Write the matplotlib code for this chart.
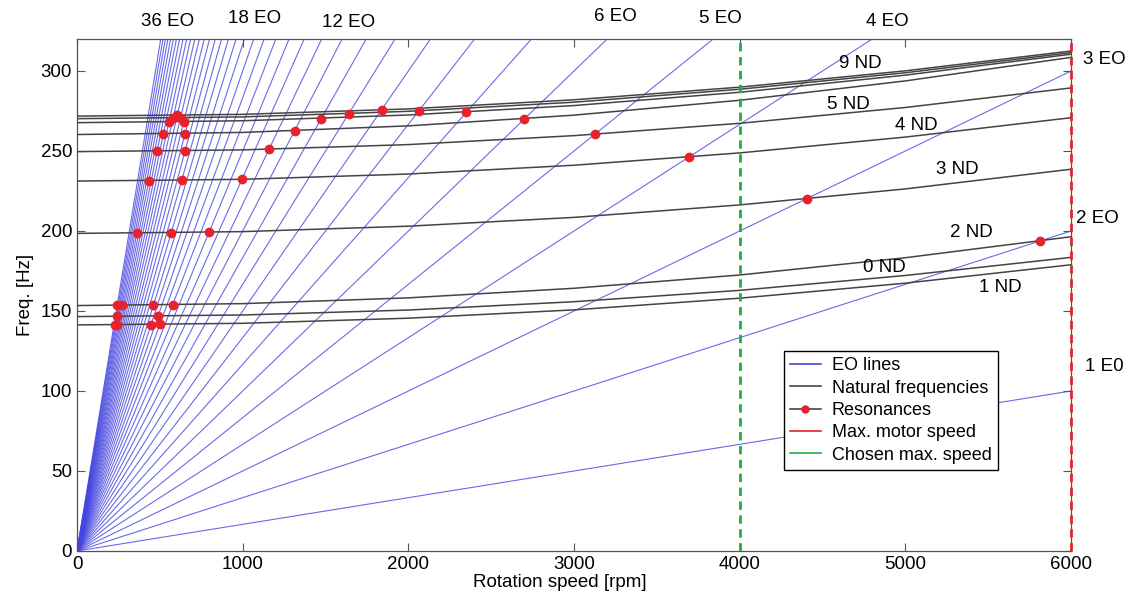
import matplotlib.pyplot as plt
from matplotlib.lines import Line2D

plt.rcParams['font.family'] = ['Liberation Sans', 'DejaVu Sans']

# Engine orders drawn as lines through the origin
eo_orders = list(range(1, 39))
rpm_span = [0, 6000]

# Natural frequencies (Hz) of each nodal diameter, read at these speeds
rpm_grid = [0, 1000, 2000, 3000, 4000, 5000, 6000]
nf_0nd = [146.5, 147.5, 150.6, 155.8, 162.9, 172.2, 183.5]
nf_1nd = [141.3, 142.3, 145.5, 150.7, 158.0, 167.4, 178.9]
nf_2nd = [153.4, 154.6, 158.2, 164.2, 172.5, 183.3, 196.4]
nf_3nd = [198.5, 199.6, 203.0, 208.5, 216.3, 226.3, 238.6]
nf_4nd = [231.2, 232.3, 235.6, 241.1, 248.8, 258.7, 270.8]
nf_5nd = [249.6, 250.7, 254.0, 259.6, 267.3, 277.2, 289.4]
nf_6nd = [260.3, 261.6, 265.7, 272.4, 281.7, 293.8, 308.5]
nf_7nd = [267.7, 268.9, 272.5, 278.4, 286.7, 297.4, 310.5]
nf_8nd = [270.2, 271.3, 274.8, 280.5, 288.6, 298.9, 311.5]
nf_9nd = [271.8, 272.9, 276.3, 282.0, 289.9, 300.1, 312.5]
nf_lines = [nf_0nd, nf_1nd, nf_2nd, nf_3nd, nf_4nd,
            nf_5nd, nf_6nd, nf_7nd, nf_8nd, nf_9nd]

# Resonance points (rpm, Hz)
res_rpm = [5813, 577, 461, 271, 242,
           489, 244,
           500, 447, 242, 229,
           4405, 797, 568, 361,
           3695, 996, 632, 434,
           3125, 1159, 652, 484,
           2700, 1313, 652, 521,
           2350, 1474, 644, 555,
           2065, 1640, 625, 580,
           1838, 605]
res_freq = [193.8, 153.8, 153.7, 153.6, 153.5,
            146.7, 146.6,
            141.6, 141.5, 141.4, 141.4,
            220.2, 199.2, 198.8, 198.6,
            246.3, 232.4, 231.7, 231.4,
            260.4, 251.1, 250.0, 249.9,
            270.0, 262.6, 260.9, 260.6,
            274.2, 270.3, 268.2, 268.1,
            275.3, 273.3, 270.7, 270.6,
            275.7, 272.2]

max_motor_speed = 6000
chosen_max_speed = 4000

eo_color = '#4545e0'
nf_color = '#444444'
red = '#e8222c'
green = '#1fae3e'

fig = plt.figure(figsize=(11.31, 5.98), dpi=100)
ax = fig.add_axes([0.0681, 0.0786, 0.8789, 0.8562])

# EO lines
for eo in eo_orders:
    ax.plot(rpm_span, [eo * r / 60 for r in rpm_span], color=eo_color,
            lw=0.8, alpha=0.8, zorder=2)

# Natural frequency lines
for nf in nf_lines:
    ax.plot(rpm_grid, nf, color=nf_color, lw=1.1, zorder=3)

# Speed limits
ax.axvline(chosen_max_speed, color=green, lw=2, ls=(0, (3, 2)), zorder=4)
ax.axvline(max_motor_speed, color=red, lw=2, ls=(0, (3, 2)), zorder=4,
           clip_on=False)

# Resonances
ax.plot(res_rpm, res_freq, 'o', color=red, ms=6, mec=red, zorder=5)

ax.set_xlim(0, 6000)
ax.set_ylim(0, 320)
ax.set_xticks(range(0, 6001, 1000))
ax.set_yticks(range(0, 301, 50))
ax.tick_params(direction='in', top=True, right=True, length=6,
               labelsize=13.5, color='#555555')
for s in ax.spines.values():
    s.set_color('#555555')
    s.set_linewidth(0.9)

ax.set_xlabel('Rotation speed [rpm]', fontsize=13.5)
ax.xaxis.set_label_coords(0.486, -0.045)
ax.set_ylabel('Freq. [Hz]', fontsize=13.5, labelpad=5)

# EO labels
fs = 13.5
for txt, x, y in [('36 EO', 544, 331), ('18 EO', 1074, 333), ('12 EO', 1642, 330),
                  ('6 EO', 3252, 334), ('5 EO', 3886, 333), ('4 EO', 4892, 331)]:
    ax.text(x, y, txt, ha='center', va='center', fontsize=fs, clip_on=False)
for txt, x, y in [('3 EO', 6072, 307), ('2 EO', 6030, 208), ('1 E0', 6084, 115)]:
    ax.text(x, y, txt, ha='left', va='center', fontsize=fs, clip_on=False)

# ND labels
for txt, x, y in [('9 ND', 4726, 304.5), ('5 ND', 4655, 279.1), ('4 ND', 5065, 266.2),
                  ('3 ND', 5314, 238.6), ('2 ND', 5396, 199.1), ('0 ND', 4871, 177.3),
                  ('1 ND', 5571, 164.8)]:
    ax.text(x, y, txt, ha='center', va='center', fontsize=fs, zorder=6)

handles = [
    Line2D([], [], color=eo_color, lw=1.2),
    Line2D([], [], color=nf_color, lw=1.2),
    Line2D([], [], color=nf_color, lw=1.2, marker='o', ms=5, mfc=red, mec=red),
    Line2D([], [], color=red, lw=1.2),
    Line2D([], [], color=green, lw=1.2),
]
labels = ['EO lines', 'Natural frequencies', 'Resonances',
          'Max. motor speed', 'Chosen max. speed']
leg = ax.legend(handles, labels, loc='upper left', bbox_to_anchor=(0.711, 0.391),
                fontsize=13, fancybox=False, framealpha=1, edgecolor='black',
                handlelength=1.7, labelspacing=0.3, borderpad=0.35,
                handletextpad=0.6, borderaxespad=0)
leg.get_frame().set_linewidth(1.0)
leg.set_zorder(10)

fig.savefig('out.png', dpi=100)
